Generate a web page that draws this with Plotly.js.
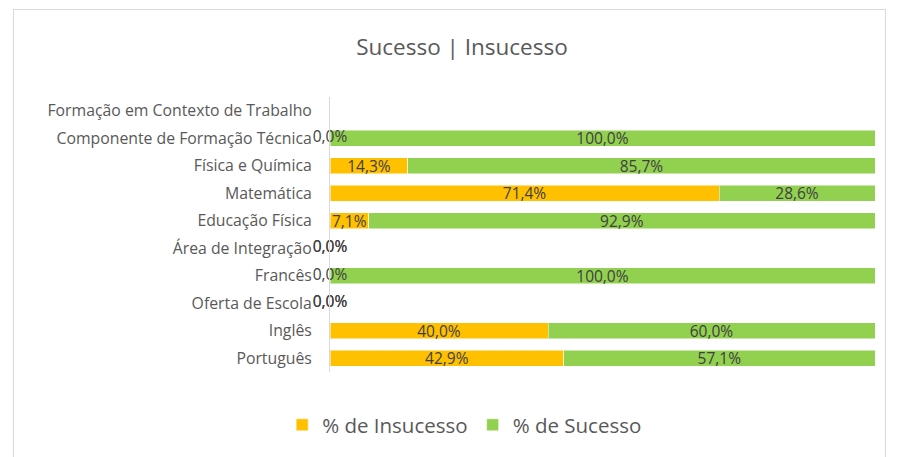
<!DOCTYPE html>
<html>
<head>
<meta charset="utf-8">
<script src="https://cdn.plot.ly/plotly-3.0.1.min.js"></script>
<style>
html,body{margin:0;padding:0;background:#fff;}
#wrap{position:relative;width:904px;height:457px;overflow:hidden;}
#chart{width:904px;height:457px;}
#frame{position:absolute;left:13px;top:9px;width:871px;height:470px;border:1px solid #d9d9d9;pointer-events:none;}
</style>
</head>
<body>
<div id="wrap"><div id="chart"></div><div id="frame"></div></div>
<script>
const categories = ["Português","Inglês","Oferta de Escola","Francês","Área de Integração","Educação Física","Matemática","Física e Química","Componente de Formação Técnica","Formação em Contexto de Trabalho"];
const insucesso = [42.9, 40.0, 0, 0, 0, 7.1, 71.4, 14.3, 0, null];
const sucesso   = [57.1, 60.0, 0, 100, 0, 92.9, 28.6, 85.7, 100, null];

const fmt = v => (v === null ? '' : v.toFixed(1).replace('.', ',') + '%');
const barText = arr => arr.map(v => (v === null || v === 0) ? '' : fmt(v));

const FONT = 'Open Sans, sans-serif';
const labelFont = {family: FONT, size: 15.5, color: '#404040'};

const zeroCats = [], zeroText = [];
[insucesso, sucesso].forEach(arr => arr.forEach((v, i) => {
  if (v === 0) { zeroCats.push(categories[i]); zeroText.push(fmt(v)); }
}));

const traces = [
  {type:'bar', orientation:'h', name:'% de Insucesso', y:categories, x:insucesso,
   marker:{color:'#FFC000', line:{color:'rgba(255,255,255,0.5)', width:1}},
   text:barText(insucesso), textposition:'inside', insidetextanchor:'middle', constraintext:'none',
   textfont:labelFont, hoverinfo:'none'},
  {type:'bar', orientation:'h', name:'% de Sucesso', y:categories, x:sucesso,
   marker:{color:'#92D050', line:{color:'rgba(255,255,255,0.5)', width:1}},
   text:barText(sucesso), textposition:'inside', insidetextanchor:'middle', constraintext:'none',
   textfont:labelFont, hoverinfo:'none'},
  {type:'scatter', mode:'text', y:zeroCats, x:zeroCats.map(() => 0), text:zeroText,
   textposition:'middle center', textfont:labelFont, showlegend:false, hoverinfo:'none', cliponaxis:false}
];

const layout = {
  width:904, height:457,
  margin:{l:330, r:29, t:97, b:85},
  paper_bgcolor:'#fff', plot_bgcolor:'#fff',
  barmode:'stack', bargap:0.42,
  showlegend:true,
  title:{text:'Sucesso | Insucesso', font:{family:FONT, size:22.5, color:'#595959'},
         xref:'container', x:0.511, xanchor:'center', yref:'container', y:1-47/457, yanchor:'middle'},
  xaxis:{range:[0,100], visible:false, fixedrange:true},
  yaxis:{categoryorder:'array', categoryarray:categories, showline:true, linecolor:'#d9d9d9', linewidth:1,
         ticks:'', showgrid:false, zeroline:false, ticklabelstandoff:14,
         tickfont:{family:FONT, size:15.8, color:'#595959'}, fixedrange:true},
  legend:{orientation:'h', traceorder:'normal', xref:'container', x:0.514, xanchor:'center', yref:'container', y:1-425/457, yanchor:'middle',
          font:{family:FONT, size:20.5, color:'#595959'}, itemwidth:30}
};

Plotly.newPlot('chart', traces, layout, {displayModeBar:false, staticPlot:true});
</script>
</body>
</html>
